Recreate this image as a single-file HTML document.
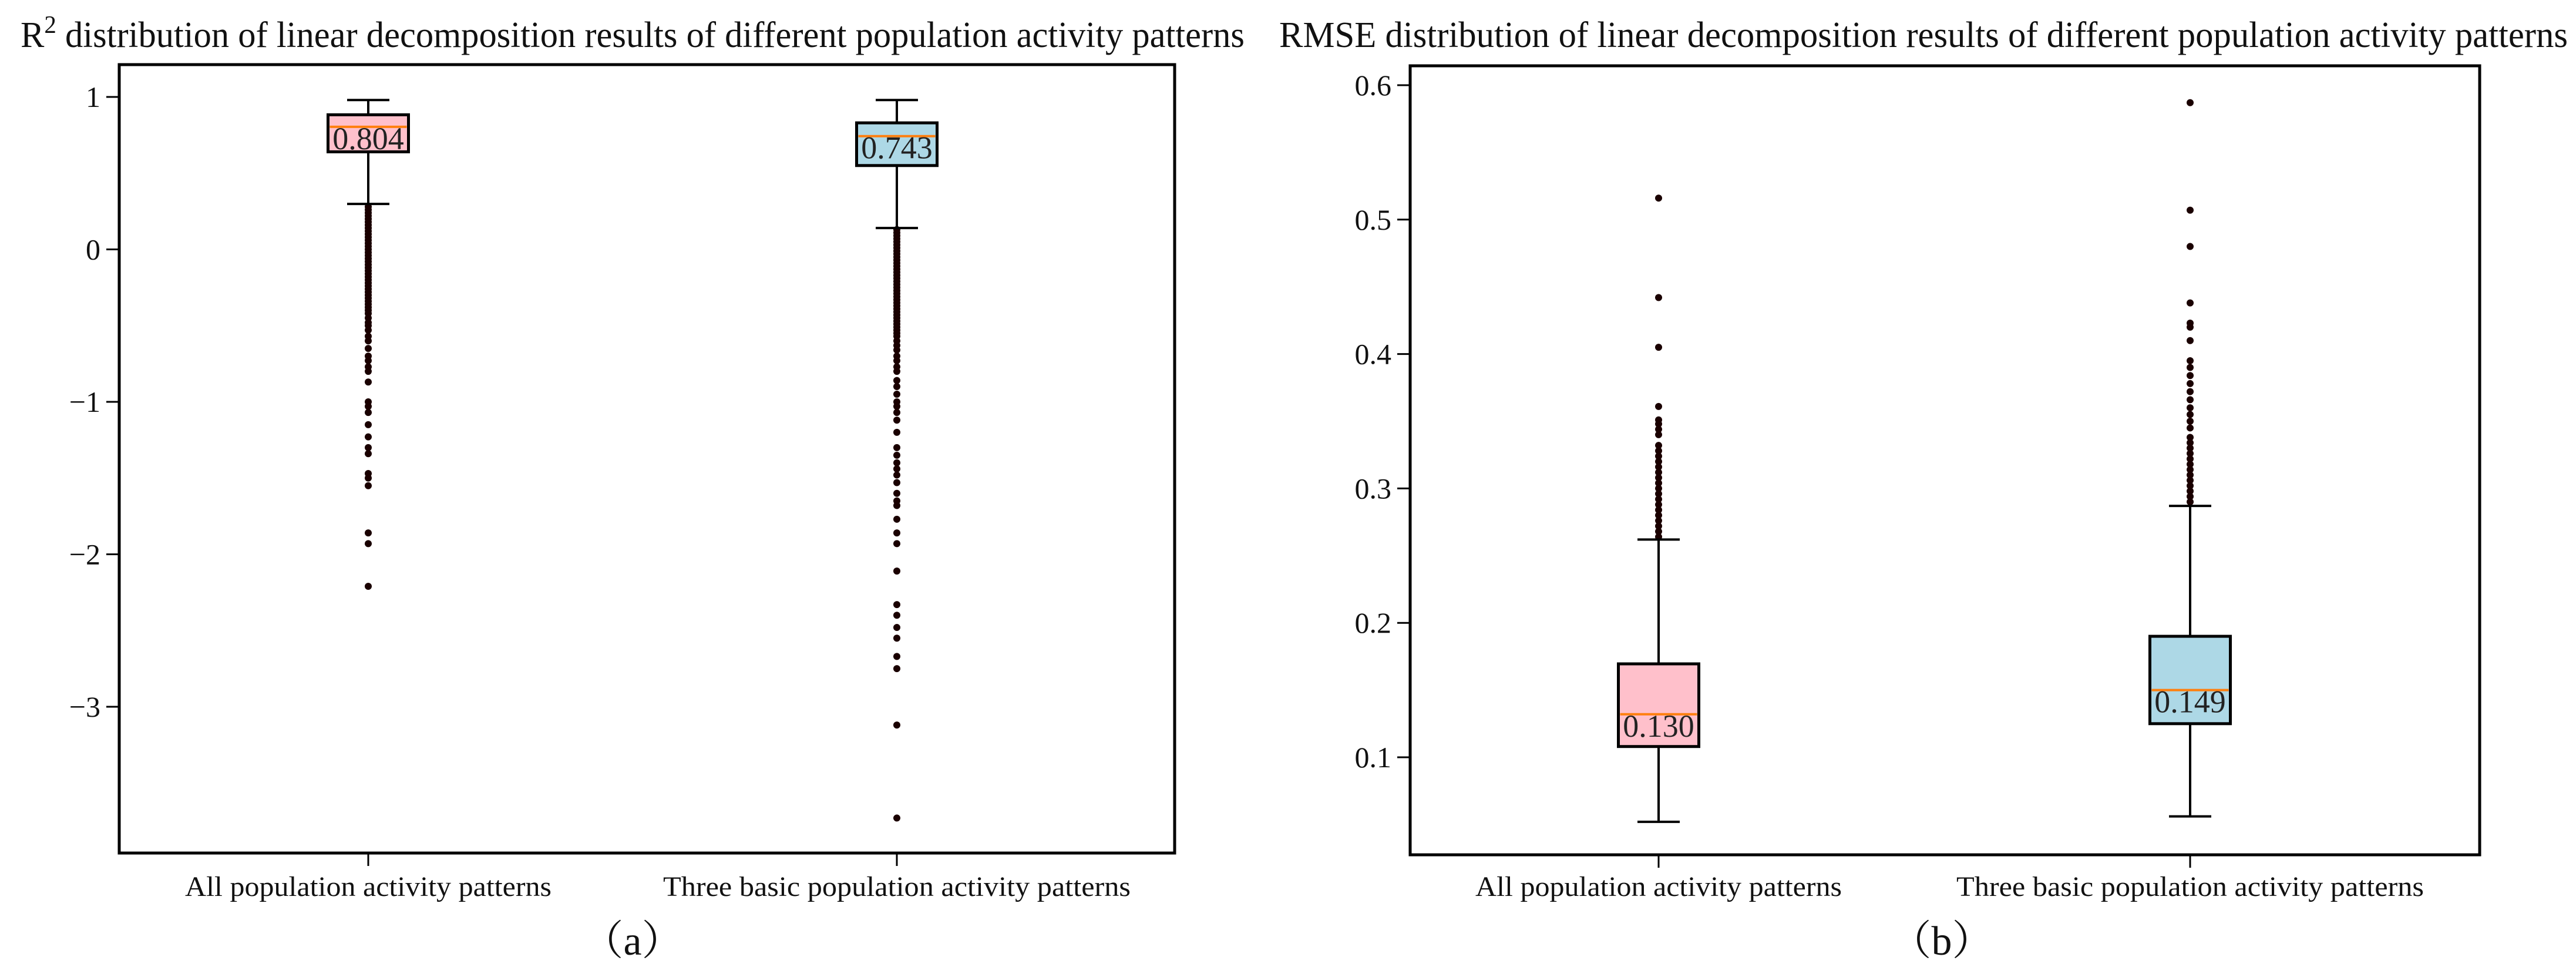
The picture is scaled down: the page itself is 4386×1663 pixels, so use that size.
<!DOCTYPE html>
<html><head><meta charset="utf-8"><style>
html,body{margin:0;padding:0;background:#fff;}
svg{display:block;font-family:"Liberation Serif",serif;}
</style></head><body>
<svg id="fig" width="4386" height="1663" viewBox="0 0 4386 1663" xmlns="http://www.w3.org/2000/svg"></svg>
<script>
// ---- Panel (a) data: R2 ----
const categories = ["All population activity patterns","Three basic population activity patterns"];
const r2Ticks = [1,0,-1,-2,-3];
const r2TickLabels = ["1","0","\u22121","\u22122","\u22123"];
const r2Q1 = [0.64, 0.55];
const r2Q3 = [0.883, 0.83];
const r2Median = [0.804, 0.743];
const r2WhiskerLow = [0.298, 0.14];
const r2WhiskerHigh = [0.98, 0.98];
const r2MedianLabels = ["0.804","0.743"];
const r2OutliersA = [0.28,0.26,0.24,0.22,0.2,0.18,0.16,0.14,0.12,0.1,0.08,0.06,0.04,0.02,0,-0.02,-0.04,-0.06,-0.08,-0.1,-0.12,-0.14,-0.16,-0.18,-0.2,-0.22,-0.24,-0.26,-0.28,-0.3,-0.32,-0.34,-0.36,-0.38,-0.4,-0.42,-0.45,-0.48,-0.5,-0.53,-0.57,-0.6,-0.65,-0.7,-0.73,-0.77,-0.8,-0.87,-1.0,-1.03,-1.07,-1.15,-1.23,-1.3,-1.34,-1.47,-1.5,-1.55,-1.86,-1.93,-2.21];
const r2OutliersB = [0.13,0.11,0.09,0.07,0.05,0.03,0.01,-0.01,-0.03,-0.05,-0.07,-0.09,-0.11,-0.13,-0.15,-0.17,-0.19,-0.21,-0.23,-0.25,-0.27,-0.29,-0.31,-0.33,-0.35,-0.37,-0.39,-0.41,-0.43,-0.45,-0.47,-0.49,-0.51,-0.53,-0.55,-0.57,-0.6,-0.63,-0.66,-0.7,-0.73,-0.77,-0.8,-0.86,-0.9,-0.95,-1.0,-1.03,-1.07,-1.12,-1.2,-1.3,-1.35,-1.4,-1.44,-1.48,-1.53,-1.6,-1.65,-1.68,-1.77,-1.86,-1.93,-2.11,-2.33,-2.4,-2.48,-2.55,-2.67,-2.75,-3.12,-3.73];

// ---- Panel (b) data: RMSE ----
const rmseTicks = [0.1,0.2,0.3,0.4,0.5,0.6];
const rmseTickLabels = ["0.1","0.2","0.3","0.4","0.5","0.6"];
const rmseQ1 = [0.108, 0.125];
const rmseQ3 = [0.1695, 0.19];
const rmseMedian = [0.132, 0.15];
const rmseWhiskerLow = [0.052, 0.056];
const rmseWhiskerHigh = [0.262, 0.287];
const rmseMedianLabels = ["0.130","0.149"];
const rmseOutliersA = [0.264,0.268,0.272,0.276,0.28,0.284,0.288,0.292,0.296,0.3,0.304,0.308,0.312,0.316,0.32,0.324,0.328,0.332,0.34,0.344,0.348,0.351,0.361,0.405,0.442,0.516];
const rmseOutliersB = [0.29,0.294,0.298,0.302,0.306,0.31,0.314,0.318,0.322,0.326,0.33,0.334,0.338,0.345,0.35,0.355,0.36,0.366,0.372,0.378,0.384,0.39,0.395,0.41,0.42,0.423,0.438,0.48,0.507,0.587];

const NS="http://www.w3.org/2000/svg";
const svg=document.getElementById('fig');
function mk(tag,attrs,parent){const e=document.createElementNS(NS,tag);for(const k in attrs)e.setAttribute(k,attrs[k]);(parent||svg).appendChild(e);return e;}

function panel(cfg){
  const g=mk('g',{});
  
  
  const yS=v=>cfg.y0px+(v-cfg.y0v)*cfg.pxPerUnit;
  const xS=i=>cfg.xc[i];
  const t=mk('text',{x:cfg.titleX,y:80,'font-size':62,textLength:cfg.titleLen,lengthAdjust:'spacingAndGlyphs',fill:'#111'},g);
  
  
  if(cfg.sup){t.textContent='R';const s=mk('tspan',{dy:-24,'font-size':42},t);s.textContent='2';const r=mk('tspan',{dy:24},t);r.textContent=' '+cfg.title;}
  else t.textContent=cfg.title;
  cfg.ticks.forEach((v,i)=>{
    const y=yS(v);
    const l=mk('line',{x1:cfg.ax.l-22,x2:cfg.ax.l,y1:y,y2:y,stroke:'#000','stroke-width':3},g);
    
    
    const tx=mk('text',{x:cfg.ax.l-32,y:y+17,'font-size':50,'text-anchor':'end',fill:'#111'},g);
    
    
    tx.textContent=cfg.tickLabels[i];
  });
  for(let i=0;i<2;i++){
    const cx=xS(i), bw=137, cw=72;
    const outl=cfg.outliers[i];
    outl.forEach(v=>{
      const c=mk('circle',{cx:cx,cy:yS(v),r:6,fill:'#1a0000'},g);
      
      
    });
    const w1=mk('line',{x1:cx,x2:cx,y1:yS(cfg.q3[i]),y2:yS(cfg.wh[i]),stroke:'#000','stroke-width':4},g);
    
    
    const w2=mk('line',{x1:cx,x2:cx,y1:yS(cfg.q1[i]),y2:yS(cfg.wl[i]),stroke:'#000','stroke-width':4},g);
    
    
    [cfg.wh[i],cfg.wl[i]].forEach(v=>{
      const c=mk('line',{x1:cx-cw/2,x2:cx+cw/2,y1:yS(v),y2:yS(v),stroke:'#000','stroke-width':4},g);
      
      
    });
    const yt=yS(cfg.q3[i]), yb=yS(cfg.q1[i]);
    const r=mk('rect',{x:cx-bw/2,y:Math.min(yt,yb),width:bw,height:Math.abs(yb-yt),fill:i==0?'#ffc0cb':'#add8e6',stroke:'#000','stroke-width':5},g);
    
    
    const ym=yS(cfg.med[i]);
    const m=mk('line',{x1:cx-bw/2+3,x2:cx+bw/2-3,y1:ym,y2:ym,stroke:'#ff7f0e','stroke-width':4},g);
    
    
    const ml=mk('text',{x:cx,y:ym+38,'font-size':54,'text-anchor':'middle',fill:'#222'},g);
    
    
    ml.textContent=cfg.medLabels[i];
    const xt=mk('line',{x1:cx,x2:cx,y1:cfg.ax.b,y2:cfg.ax.b+22,stroke:'#000','stroke-width':3},g);
    
    
    const xl=mk('text',{x:cx,y:1525,'font-size':48,'text-anchor':'middle',textLength:i==0?624:796,lengthAdjust:'spacingAndGlyphs',fill:'#111'},g);
    
    
    xl.textContent=categories[i];
  }
  const fr=mk('rect',{x:cfg.ax.l,y:cfg.ax.t,width:cfg.ax.r-cfg.ax.l,height:cfg.ax.b-cfg.ax.t,fill:'none',stroke:'#000','stroke-width':5},g);
  
  
  const cap=mk('text',{x:cfg.capX,y:1625,'font-size':70,'text-anchor':'middle',fill:'#111','font-family':'"Liberation Serif","Noto Serif CJK SC",serif'},g);
  
  
  cap.textContent=cfg.caption;
}

panel({name:'panel-a-r2',sup:true,title:'distribution of linear decomposition results of different population activity patterns',
  titleX:35,titleLen:2084,ax:{l:203,r:2000,t:110,b:1452},y0v:0,y0px:424.5,pxPerUnit:-259.5,xc:[627,1527],
  ticks:r2Ticks,tickLabels:r2TickLabels,q1:r2Q1,q3:r2Q3,med:r2Median,wl:r2WhiskerLow,wh:r2WhiskerHigh,
  medLabels:r2MedianLabels,outliers:[r2OutliersA,r2OutliersB],caption:'\uff08a\uff09',capX:1077});
panel({name:'panel-b-rmse',sup:false,title:'RMSE distribution of linear decomposition results of different population activity patterns',
  titleX:2178,titleLen:2194,ax:{l:2401,r:4222,t:112,b:1455},y0v:0.1,y0px:1289,pxPerUnit:-2288,xc:[2824,3729],
  ticks:rmseTicks,tickLabels:rmseTickLabels,q1:rmseQ1,q3:rmseQ3,med:rmseMedian,wl:rmseWhiskerLow,wh:rmseWhiskerHigh,
  medLabels:rmseMedianLabels,outliers:[rmseOutliersA,rmseOutliersB],caption:'\uff08b\uff09',capX:3306});
</script>
</body></html>
